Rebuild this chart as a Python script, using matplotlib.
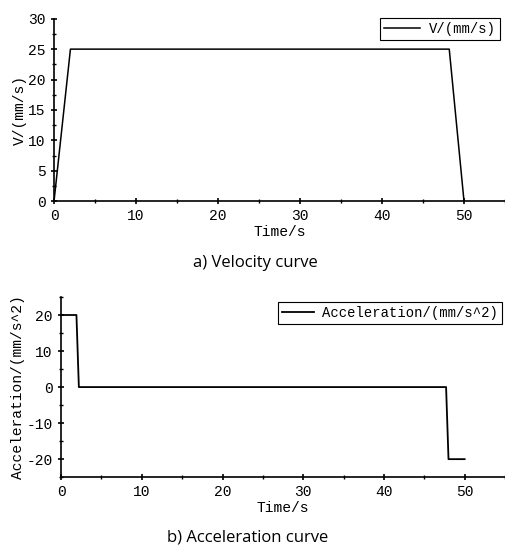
import matplotlib.pyplot as plt
from matplotlib.ticker import MultipleLocator

# velocity profile
t_vel = [0, 2, 48.2, 50]
vel = [0, 25, 25, 0]

# acceleration profile
t_acc = [0, 1.9, 2.2, 47.7, 48.0, 50]
acc = [20, 20, 0, 0, -20, -20]

mono = "Liberation Mono"
plt.rcParams["font.family"] = mono
plt.rcParams["font.size"] = 10
plt.rcParams["axes.unicode_minus"] = False

fig = plt.figure(figsize=(5.05, 5.51), dpi=100)
ax1 = fig.add_axes([0.107, 0.635, 0.893, 0.331])
ax2 = fig.add_axes([0.121, 0.134, 0.879, 0.327])


def style(ax):
    for s in ("top", "right"):
        ax.spines[s].set_visible(False)
    for s in ("left", "bottom"):
        ax.spines[s].set_linewidth(1.2)
    ax.tick_params(which="major", direction="inout", length=5, width=1.2, labelsize=10.5)
    ax.tick_params(which="minor", direction="inout", length=3, width=1.0)
    ax.xaxis.set_major_locator(MultipleLocator(10))
    ax.xaxis.set_minor_locator(MultipleLocator(5))
    ax.set_xlim(0, 55)
    ax.set_xlabel("Time/s", labelpad=1, fontsize=10.5)


ax1.plot(t_vel, vel, color="black", lw=1.1, label="V/(mm/s)")
style(ax1)
ax1.set_ylim(0, 30)
ax1.yaxis.set_major_locator(MultipleLocator(5))
ax1.yaxis.set_minor_locator(MultipleLocator(2.5))
ax1.set_ylabel("V/(mm/s)", labelpad=1, fontsize=10.5)
leg1 = ax1.legend(loc="upper right", bbox_to_anchor=(0.995, 1.02), fancybox=False,
                  edgecolor="black", framealpha=1, borderpad=0.3, handlelength=2.6,
                  handletextpad=0.6, borderaxespad=0.2)
leg1.get_frame().set_linewidth(0.8)

ax2.plot(t_acc, acc, color="black", lw=1.3, label="Acceleration/(mm/s^2)")
style(ax2)
ax2.set_ylim(-25, 25)
ax2.yaxis.set_major_locator(MultipleLocator(10))
ax2.yaxis.set_minor_locator(MultipleLocator(5))
ax2.set_ylabel("Acceleration/(mm/s^2)", labelpad=1, fontsize=10.5)
leg2 = ax2.legend(loc="upper right", bbox_to_anchor=(1.0, 0.99), fancybox=False,
                  edgecolor="black", framealpha=1, borderpad=0.3, handlelength=2.3,
                  handletextpad=0.6, borderaxespad=0.2)
leg2.get_frame().set_linewidth(0.8)

fig.text(0.505, 1 - 263 / 551, "a) Velocity curve", ha="center", va="center",
         fontsize=12, family="Open Sans")
fig.text(0.49, 1 - 537 / 551, "b) Acceleration curve", ha="center", va="center",
         fontsize=12, family="Open Sans")

fig.savefig("out.png", dpi=100)
